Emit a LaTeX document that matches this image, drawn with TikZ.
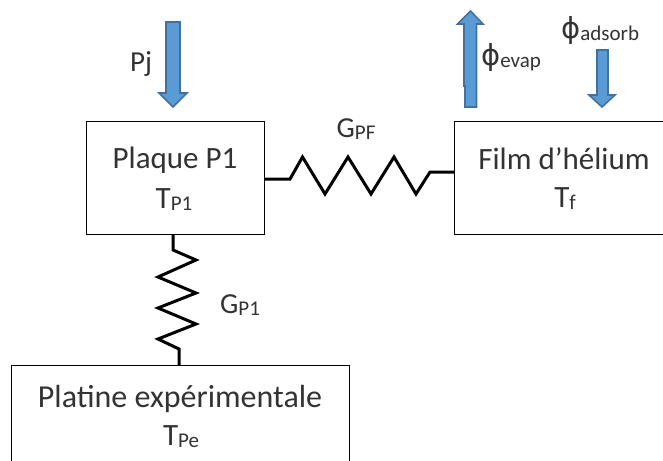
\documentclass[tikz,border=0pt]{standalone}
\usepackage{fontspec}
\setmainfont{Carlito}
\newfontfamily\symfont{DejaVu Sans}
\definecolor{flowfill}{HTML}{5B9BD5}
\definecolor{flowedge}{HTML}{41719C}
\tikzset{
  x=1pt,y=-1pt,
  boxe/.style={draw=black,line width=1pt,fill=white},
  lbl/.style={inner sep=0pt,text=black!80,font=\fontsize{31}{33}\selectfont,anchor=base},
  lblb/.style={inner sep=0pt,text=black!80,font=\fontsize{29}{31}\selectfont,anchor=base},
  res/.style={line width=3pt,line join=miter,black},
  flow/.style={draw=flowedge,fill=flowfill,line width=1.6pt,line join=miter},
}
\newcommand{\sbs}[1]{\raisebox{-0.08em}{\fontsize{21}{22}\selectfont #1}}
\newcommand{\phisym}{{\fontsize{29}{30}\selectfont\symfont ϕ}}
\begin{document}
\begin{tikzpicture}
\useasboundingbox (0,0) rectangle (663,460);
\clip (0,0) rectangle (663,460);
\fill[white] (0,0) rectangle (663,460);
\draw[boxe] (86,121) rectangle (264.5,234);
\coordinate (p1e) at (264.5,179);
\coordinate (p1s) at (173,234);
\draw[boxe] (454,121) rectangle (670,234);
\coordinate (fw) at (454,172);
\draw[boxe] (11,365) rectangle (349,470);
\coordinate (pen) at (179,365);
\draw[res] (p1e) -- (290,179) -- (302.5,157) -- (325,194) -- (348,157) -- (371,194) -- (394,157) -- (416,194) -- (430,172) -- (fw);
\draw[res] (p1s) -- (173,250) -- (196,260) -- (158,277) -- (196,293) -- (158,308) -- (196,324) -- (158,339) -- (179,349) -- (pen);
\draw[flow] (166,22) -- (180,22) -- (180,93) -- (187,93) -- (173,107) -- (159,93) -- (166,93) -- cycle;
\draw[flow] (465,107) -- (465,86) -- (464,86) -- (464,24) -- (457.5,24) -- (470.5,11) -- (483,24) -- (476.5,24) -- (476.5,107) -- cycle;
\draw[flow] (597,50) -- (608,50) -- (608,95) -- (615,95) -- (602,107) -- (589,95) -- (597,95) -- cycle;
\node[lbl,font=\fontsize{29}{31}\selectfont] (pj) at (141,71) {Pj};
\node[lbl] (plaque) at (175,168) {Plaque P1};
\node[lbl] (tp1) at (174,208) {T\sbs{P1}};
\node[lbl] (film) at (564,169) {Film d’hélium};
\node[lbl] (tf) at (565,207) {T\sbs{f}};
\node[lbl,font=\fontsize{32}{34}\selectfont] (platine) at (180,407) {Platine expérimentale};
\node[lbl] (tpe) at (181,445) {T\sbs{Pe}};
\node[lblb] (gpf) at (356,137) {G\sbs{PF}};
\node[lblb] (gp1) at (240,313) {G\sbs{P1}};
\node[lbl,anchor=base west] (evap) at (481,65) {\phisym\sbs{evap}};
\node[lbl,anchor=base west] (ads) at (561,38) {\phisym\sbs{adsorb}};
\end{tikzpicture}
\end{document}
